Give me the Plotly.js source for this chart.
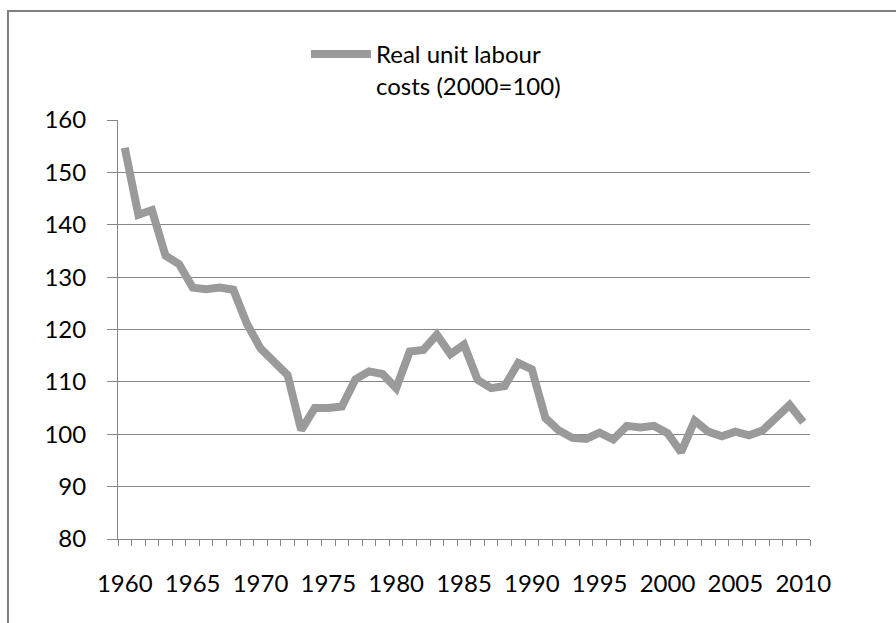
<!DOCTYPE html>
<html>
<head>
<meta charset="utf-8">
<script src="https://cdn.plot.ly/plotly-3.0.1.min.js"></script>
<style>html,body{margin:0;padding:0;background:#fff}#chart{width:896px;height:623px}</style>
</head>
<body>
<div id="chart"></div>
<script>
const years = [1960,1961,1962,1963,1964,1965,1966,1967,1968,1969,
  1970,1971,1972,1973,1974,1975,1976,1977,1978,1979,
  1980,1981,1982,1983,1984,1985,1986,1987,1988,1989,
  1990,1991,1992,1993,1994,1995,1996,1997,1998,1999,
  2000,2001,2002,2003,2004,2005,2006,2007,2008,2009,2010];
const rulc = [154.7,141.9,142.8,134.1,132.5,128.0,127.7,128.0,127.6,121.1,
  116.4,113.9,111.3,100.8,105.0,105.0,105.3,110.5,112.0,111.5,
  108.8,115.8,116.1,119.0,115.3,117.1,110.4,108.8,109.2,113.6,
  112.4,103.1,100.7,99.3,99.1,100.3,99.0,101.6,101.3,101.6,
  100.2,96.6,102.6,100.5,99.6,100.5,99.8,100.7,103.0,105.6,102.3];
const seriesName = "Real unit labour<br>costs (2000=100)";
const yTicks = [80,90,100,110,120,130,140,150,160];
const xTicks = [1960,1965,1970,1975,1980,1985,1990,1995,2000,2005,2010];

const FONT = "Lato, Carlito, 'Open Sans', sans-serif";
const GRID = "#868686";

const trace = {
  x: years, y: rulc, type: "scatter", mode: "lines",
  name: seriesName,
  line: {color: "#9a9a9a", width: 8, shape: "linear"},
  hoverinfo: "x+y"
};

const layout = {
  width: 896, height: 623,
  margin: {l: 118, r: 86, t: 120, b: 84},
  paper_bgcolor: "#ffffff", plot_bgcolor: "#ffffff",
  font: {family: FONT, size: 24, color: "#000000"},
  showlegend: true,
  legend: {
    x: (306 - 118) / 692, y: (539 - 32) / 419, xanchor: "left", yanchor: "top",
    bgcolor: "rgba(0,0,0,0)", font: {family: FONT, size: 24, color: "#000"},
    valign: "top", itemwidth: 60, tracegroupgap: 0
  },
  xaxis: {
    range: [1959.5, 2010.5], tickmode: "array", tickvals: xTicks,
    ticktext: xTicks.map(String),
    showgrid: false, zeroline: false,
    showline: true, linecolor: GRID, linewidth: 1,
    ticks: "", ticklabelstandoff: 23,
    minor: {tick0: 1959.5, dtick: 1, ticks: "outside", ticklen: 6, tickcolor: GRID, tickwidth: 1, showgrid: false},
    tickfont: {family: FONT, size: 24, color: "#000"},
    fixedrange: true
  },
  yaxis: {
    range: [80, 160], tickmode: "array", tickvals: yTicks,
    showgrid: true, gridcolor: GRID, gridwidth: 1, zeroline: false,
    showline: true, linecolor: GRID, linewidth: 1,
    ticks: "outside", ticklen: 10, tickcolor: GRID, tickwidth: 1,
    ticklabelstandoff: 16,
    tickfont: {family: FONT, size: 24, color: "#000"},
    fixedrange: true
  },
  shapes: [{
    type: "path", xref: "paper", yref: "paper",
    path: "M -0.159,-0.25 L -0.159,1.260 L 1.2,1.260",
    line: {color: "#7f7f7f", width: 2}
  }]
};

Plotly.newPlot("chart", [trace], layout, {displayModeBar: false, staticPlot: true});
</script>
</body>
</html>
